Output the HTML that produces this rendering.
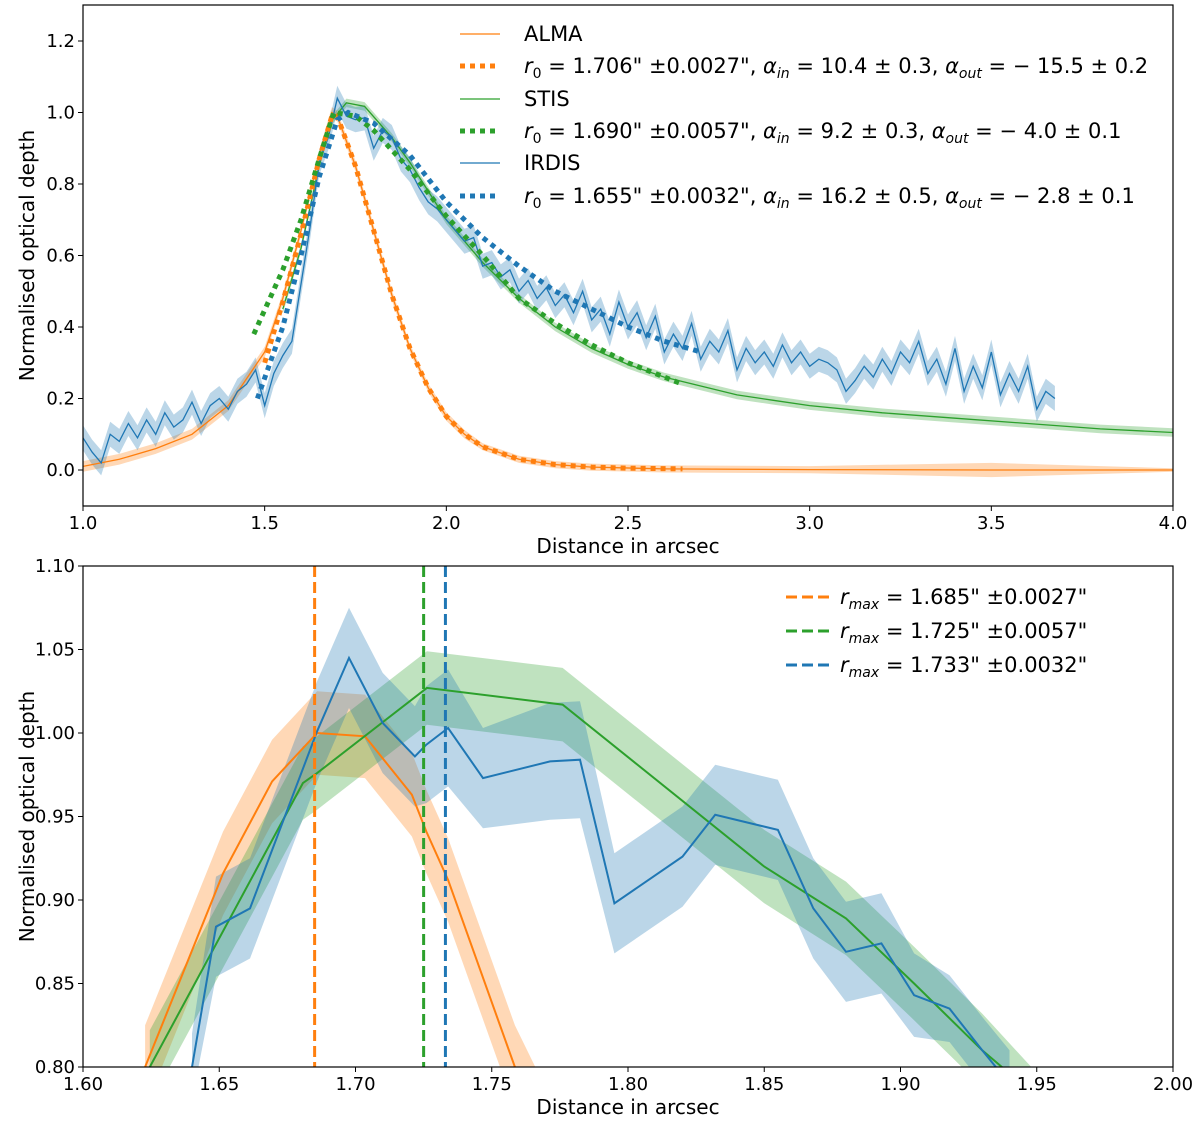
<!DOCTYPE html>
<html><head><meta charset="utf-8"><style>
html,body{margin:0;padding:0;background:#fff;width:1200px;height:1124px;overflow:hidden;position:relative}
svg{display:block;font-family:"DejaVu Sans","Liberation Sans",sans-serif}
</style></head><body>
<svg id="chart" width="1200" height="1124" viewBox="0 0 1200 1124" xmlns="http://www.w3.org/2000/svg" style="position:absolute;left:0;top:0">
<g id="top"></g>
<g id="bot"></g>
</svg>
<script>
// ---------- TOP PANEL DATA ----------
const almaX=[1.0,1.1,1.2,1.3,1.4,1.5,1.55,1.6,1.65,1.685,1.7,1.75,1.8,1.85,1.9,1.95,2.0,2.05,2.1,2.2,2.3,2.4,2.6,3.0,3.5,4.0];
const almaY=[0.01,0.03,0.06,0.1,0.18,0.33,0.48,0.67,0.88,1.0,0.99,0.85,0.67,0.49,0.34,0.23,0.15,0.1,0.065,0.03,0.015,0.008,0.003,0.001,0.0,0.0];
const almaErr=[0.015,0.015,0.015,0.015,0.015,0.015,0.015,0.015,0.015,0.015,0.015,0.015,0.015,0.015,0.012,0.012,0.012,0.012,0.01,0.01,0.01,0.01,0.01,0.01,0.02,0.005];
const almaFitX=[1.5,1.55,1.6,1.65,1.685,1.7,1.75,1.8,1.85,1.9,1.95,2.0,2.05,2.1,2.2,2.3,2.4,2.5,2.65];
const almaFitY=[0.30,0.47,0.66,0.87,0.99,0.99,0.85,0.67,0.49,0.34,0.23,0.15,0.1,0.065,0.03,0.015,0.008,0.005,0.003];
const stisX=[1.55,1.6,1.65,1.68,1.725,1.775,1.85,1.9,1.95,2.0,2.1,2.2,2.3,2.4,2.5,2.6,2.7,2.8,2.9,3.0,3.2,3.4,3.6,3.8,4.0];
const stisY=[0.45,0.62,0.85,0.972,1.027,1.017,0.93,0.86,0.78,0.70,0.58,0.48,0.40,0.34,0.295,0.26,0.235,0.21,0.195,0.18,0.16,0.145,0.13,0.115,0.105];
const stisFitX=[1.47,1.55,1.6,1.65,1.69,1.75,1.8,1.9,2.0,2.1,2.2,2.3,2.4,2.5,2.65];
const stisFitY=[0.38,0.56,0.70,0.87,1.0,0.99,0.95,0.84,0.71,0.60,0.48,0.41,0.35,0.30,0.24];
const irdisX=[1.000,1.025,1.050,1.075,1.100,1.125,1.150,1.175,1.200,1.225,1.250,1.275,1.300,1.325,1.350,1.375,1.400,1.425,1.450,1.475,1.500,1.525,1.550,1.575,1.600,1.625,1.650,1.675,1.700,1.725,1.750,1.775,1.800,1.825,1.850,1.875,1.900,1.925,1.950,1.975,2.000,2.025,2.050,2.075,2.100,2.125,2.150,2.175,2.200,2.225,2.250,2.275,2.300,2.325,2.350,2.375,2.400,2.425,2.450,2.475,2.500,2.525,2.550,2.575,2.600,2.625,2.650,2.675,2.700,2.725,2.750,2.775,2.800,2.825,2.850,2.875,2.900,2.925,2.950,2.975,3.000,3.025,3.050,3.075,3.100,3.125,3.150,3.175,3.200,3.225,3.250,3.275,3.300,3.325,3.350,3.375,3.400,3.425,3.450,3.475,3.500,3.525,3.550,3.575,3.600,3.625,3.650,3.675];
const irdisY=[0.09,0.05,0.02,0.10,0.08,0.13,0.09,0.14,0.10,0.16,0.12,0.14,0.19,0.13,0.18,0.20,0.17,0.22,0.24,0.28,0.18,0.27,0.32,0.36,0.52,0.68,0.86,0.93,1.04,0.99,0.98,0.985,0.90,0.95,0.93,0.87,0.84,0.79,0.75,0.73,0.70,0.67,0.64,0.65,0.57,0.58,0.54,0.56,0.50,0.53,0.48,0.51,0.46,0.49,0.44,0.50,0.42,0.45,0.38,0.47,0.40,0.44,0.37,0.43,0.33,0.38,0.34,0.41,0.31,0.36,0.33,0.39,0.28,0.34,0.30,0.33,0.29,0.35,0.30,0.33,0.29,0.31,0.30,0.28,0.22,0.25,0.29,0.26,0.31,0.27,0.33,0.30,0.36,0.27,0.31,0.24,0.34,0.22,0.29,0.23,0.33,0.21,0.27,0.22,0.29,0.17,0.22,0.20];
const irdisFitX=[1.48,1.55,1.6,1.65,1.7,1.73,1.8,1.9,2.0,2.1,2.2,2.3,2.4,2.5,2.6,2.7];
const irdisFitY=[0.2,0.4,0.6,0.82,0.98,1.0,0.97,0.88,0.75,0.65,0.57,0.50,0.45,0.40,0.36,0.33];
const topXTicks=[1.0,1.5,2.0,2.5,3.0,3.5,4.0];
const topYTicks=[0.0,0.2,0.4,0.6,0.8,1.0,1.2];

// ---------- BOTTOM PANEL DATA ----------
const bAlmaX=[1.6228,1.6514,1.6694,1.6859,1.7035,1.7207,1.726,1.734,1.7585,1.766];
const bAlmaY=[0.80,0.916,0.971,1.0,0.998,0.963,0.941,0.912,0.80,0.785];
const bAlmaErr=[0.025,0.025,0.025,0.025,0.025,0.025,0.025,0.025,0.025,0.015];
const bStisX=[1.6245,1.6807,1.6859,1.7262,1.776,1.85,1.88,1.905,1.93,1.948];
const bStisY=[0.80,0.970,0.976,1.027,1.017,0.92,0.889,0.85,0.81,0.785];
const bStisErr=[0.022,0.022,0.022,0.022,0.022,0.022,0.022,0.022,0.022,0.015];
const bIrdisX=[1.640,1.6488,1.6613,1.6859,1.6976,1.710,1.7218,1.726,1.734,1.7468,1.7714,1.7824,1.795,1.82,1.832,1.855,1.868,1.88,1.893,1.905,1.918,1.93,1.94];
const bIrdisY=[0.80,0.884,0.895,1.001,1.045,1.006,0.986,0.993,1.003,0.973,0.983,0.984,0.898,0.926,0.951,0.942,0.895,0.869,0.874,0.843,0.835,0.81,0.79];
const bIrdisErr=[0.02,0.03,0.03,0.03,0.03,0.03,0.03,0.035,0.035,0.03,0.035,0.035,0.03,0.03,0.03,0.03,0.03,0.03,0.03,0.025,0.02,0.02,0.02];
const bMaxX=[1.685,1.725,1.733];
const botXTicks=[1.60,1.65,1.70,1.75,1.80,1.85,1.90,1.95,2.00];
const botYTicks=[0.80,0.85,0.90,0.95,1.00,1.05,1.10];

const NS="http://www.w3.org/2000/svg";
const C={o:"#ff7f0e",g:"#2ca02c",b:"#1f77b4"};
function mk(parent,tag,attrs){const e=document.createElementNS(NS,tag);for(const k in attrs)e.setAttribute(k,attrs[k]);parent.appendChild(e);return e;}
function pathD(xs,ys,X,Y){return xs.map((x,i)=>(i?"L":"M")+X(x).toFixed(1)+","+Y(ys[i]).toFixed(1)).join("");}
function bandD(xs,ys,errs,X,Y){let d=xs.map((x,i)=>(i?"L":"M")+X(x).toFixed(1)+","+Y(ys[i]+errs[i]).toFixed(1)).join("");for(let i=xs.length-1;i>=0;i--)d+="L"+X(xs[i]).toFixed(1)+","+Y(ys[i]-errs[i]).toFixed(1);return d+"Z";}

function axes(g,L,R,T,B,X,Y,xt,yt,xfmt,yfmt,clipId){
  const defs=mk(g,"defs",{});const cp=mk(defs,"clipPath",{id:clipId});mk(cp,"rect",{x:L,y:T,width:R-L,height:B-T});
  xt.forEach(v=>{const x=X(v);
    const t=mk(g,"line",{x1:x,x2:x,y1:B,y2:B+5,stroke:"#000","stroke-width":1});
    
    
    const l=mk(g,"text",{x:x,y:B+23,"text-anchor":"middle","font-size":18});l.textContent=xfmt(v);
    
    });
  yt.forEach(v=>{const y=Y(v);
    const t=mk(g,"line",{x1:L-5,x2:L,y1:y,y2:y,stroke:"#000","stroke-width":1});
    
    
    const l=mk(g,"text",{x:L-8,y:y+6,"text-anchor":"end","font-size":18});l.textContent=yfmt(v);
    
    });
  const xl=mk(g,"text",{x:(L+R)/2,y:B+47,"text-anchor":"middle","font-size":20});xl.textContent="Distance in arcsec";
  
  
  const yl=mk(g,"text",{x:0,y:0,"text-anchor":"middle","font-size":20,transform:`translate(34,${(T+B)/2}) rotate(-90)`});yl.textContent="Normalised optical depth";
  
  
  const clip=mk(g,"g",{"clip-path":`url(#${clipId})`});
  
  
  return clip;
}
function frame(g,L,R,T,B){const f=mk(g,"rect",{x:L,y:T,width:R-L,height:B-T,fill:"none",stroke:"#000","stroke-width":1.2});
  
  }

// ---- TOP ----
(function(){
const g=document.getElementById("top");
const L=83,R=1173,T=5,B=506;
const X=v=>L+(v-1)*(R-L)/3, Y=v=>470-v*357.5;
const p=axes(g,L,R,T,B,X,Y,topXTicks,topYTicks,v=>v.toFixed(1),v=>v.toFixed(1),"clipTop");
let e;
e=mk(p,"path",{d:bandD(almaX,almaY,almaErr,X,Y),fill:C.o,"fill-opacity":0.3});

e=mk(p,"path",{d:bandD(stisX,stisY,stisX.map(()=>0.012),X,Y),fill:C.g,"fill-opacity":0.3});

e=mk(p,"path",{d:bandD(irdisX,irdisY,irdisX.map(()=>0.035),X,Y),fill:C.b,"fill-opacity":0.3});

e=mk(p,"path",{d:pathD(almaX,almaY,X,Y),fill:"none",stroke:C.o,"stroke-width":1.3});

e=mk(p,"path",{d:pathD(stisX,stisY,X,Y),fill:"none",stroke:C.g,"stroke-width":1.3});

e=mk(p,"path",{d:pathD(irdisX,irdisY,X,Y),fill:"none",stroke:C.b,"stroke-width":1.3});

e=mk(p,"path",{d:pathD(almaFitX,almaFitY,X,Y),fill:"none",stroke:C.o,"stroke-width":5,"stroke-dasharray":"5 5"});

e=mk(p,"path",{d:pathD(stisFitX,stisFitY,X,Y),fill:"none",stroke:C.g,"stroke-width":5,"stroke-dasharray":"5 5"});

e=mk(p,"path",{d:pathD(irdisFitX,irdisFitY,X,Y),fill:"none",stroke:C.b,"stroke-width":5,"stroke-dasharray":"5 5"});

frame(g,L,R,T,B);
})();

// ---- BOTTOM ----
(function(){
const g=document.getElementById("bot");
const L=83,R=1173,T=566,B=1067;
const X=v=>L+(v-1.6)*(R-L)/0.4, Y=v=>B-(v-0.8)*(B-T)/0.3;
const p=axes(g,L,R,T,B,X,Y,botXTicks,botYTicks,v=>v.toFixed(2),v=>v.toFixed(2),"clipBot");
let e;
e=mk(p,"path",{d:bandD(bAlmaX,bAlmaY,bAlmaErr,X,Y),fill:C.o,"fill-opacity":0.3});

e=mk(p,"path",{d:bandD(bStisX,bStisY,bStisErr,X,Y),fill:C.g,"fill-opacity":0.3});

e=mk(p,"path",{d:bandD(bIrdisX,bIrdisY,bIrdisErr,X,Y),fill:C.b,"fill-opacity":0.3});

e=mk(p,"path",{d:pathD(bAlmaX,bAlmaY,X,Y),fill:"none",stroke:C.o,"stroke-width":2});

e=mk(p,"path",{d:pathD(bStisX,bStisY,X,Y),fill:"none",stroke:C.g,"stroke-width":2});

e=mk(p,"path",{d:pathD(bIrdisX,bIrdisY,X,Y),fill:"none",stroke:C.b,"stroke-width":2});

const cols=[C.o,C.g,C.b],names=['alma-rmax-line','stis-rmax-line','irdis-rmax-line'];
bMaxX.forEach((v,i)=>{const l=mk(p,"line",{x1:X(v),x2:X(v),y1:T,y2:B,stroke:cols[i],"stroke-width":3,"stroke-dasharray":"11 5"});
  
  });
frame(g,L,R,T,B);
})();
</script>
<svg style="position:absolute;left:0;top:0" width="1200" height="1124" font-family="DejaVu Sans, Liberation Sans, sans-serif">
<g font-size="21">
 <line x1="460" x2="500" y1="34" y2="34" stroke="#ff7f0e" stroke-width="1.3"/>
 <text x="524" y="41">ALMA</text>
 <line x1="460" x2="500" y1="66" y2="66" stroke="#ff7f0e" stroke-width="5" stroke-dasharray="5 5"/>
 <text x="524" y="73"><tspan font-style="italic">r</tspan><tspan font-size="14" dy="5">0</tspan><tspan dy="-5"> = 1.706" ±0.0027", </tspan><tspan font-style="italic">α</tspan><tspan font-size="14" dy="5" font-style="italic">in</tspan><tspan dy="-5"> = 10.4 ± 0.3, </tspan><tspan font-style="italic">α</tspan><tspan font-size="14" dy="5" font-style="italic">out</tspan><tspan dy="-5"> = − 15.5 ± 0.2</tspan></text>
 <line x1="460" x2="500" y1="99" y2="99" stroke="#2ca02c" stroke-width="1.3"/>
 <text x="524" y="106">STIS</text>
 <line x1="460" x2="500" y1="131" y2="131" stroke="#2ca02c" stroke-width="5" stroke-dasharray="5 5"/>
 <text x="524" y="138"><tspan font-style="italic">r</tspan><tspan font-size="14" dy="5">0</tspan><tspan dy="-5"> = 1.690" ±0.0057", </tspan><tspan font-style="italic">α</tspan><tspan font-size="14" dy="5" font-style="italic">in</tspan><tspan dy="-5"> = 9.2 ± 0.3, </tspan><tspan font-style="italic">α</tspan><tspan font-size="14" dy="5" font-style="italic">out</tspan><tspan dy="-5"> = − 4.0 ± 0.1</tspan></text>
 <line x1="460" x2="500" y1="163" y2="163" stroke="#1f77b4" stroke-width="1.3"/>
 <text x="524" y="170">IRDIS</text>
 <line x1="460" x2="500" y1="196" y2="196" stroke="#1f77b4" stroke-width="5" stroke-dasharray="5 5"/>
 <text x="524" y="203"><tspan font-style="italic">r</tspan><tspan font-size="14" dy="5">0</tspan><tspan dy="-5"> = 1.655" ±0.0032", </tspan><tspan font-style="italic">α</tspan><tspan font-size="14" dy="5" font-style="italic">in</tspan><tspan dy="-5"> = 16.2 ± 0.5, </tspan><tspan font-style="italic">α</tspan><tspan font-size="14" dy="5" font-style="italic">out</tspan><tspan dy="-5"> = − 2.8 ± 0.1</tspan></text>
</g>
<g font-size="21">
 <line x1="786" x2="830" y1="597" y2="597" stroke="#ff7f0e" stroke-width="3" stroke-dasharray="11 5"/>
 <text x="840" y="604"><tspan font-style="italic">r</tspan><tspan font-size="14" dy="5" font-style="italic">max</tspan><tspan dy="-5"> = 1.685" ±0.0027"</tspan></text>
 <line x1="786" x2="830" y1="631" y2="631" stroke="#2ca02c" stroke-width="3" stroke-dasharray="11 5"/>
 <text x="840" y="638"><tspan font-style="italic">r</tspan><tspan font-size="14" dy="5" font-style="italic">max</tspan><tspan dy="-5"> = 1.725" ±0.0057"</tspan></text>
 <line x1="786" x2="830" y1="665" y2="665" stroke="#1f77b4" stroke-width="3" stroke-dasharray="11 5"/>
 <text x="840" y="672"><tspan font-style="italic">r</tspan><tspan font-size="14" dy="5" font-style="italic">max</tspan><tspan dy="-5"> = 1.733" ±0.0032"</tspan></text>
</g>
</svg>
</body></html>
